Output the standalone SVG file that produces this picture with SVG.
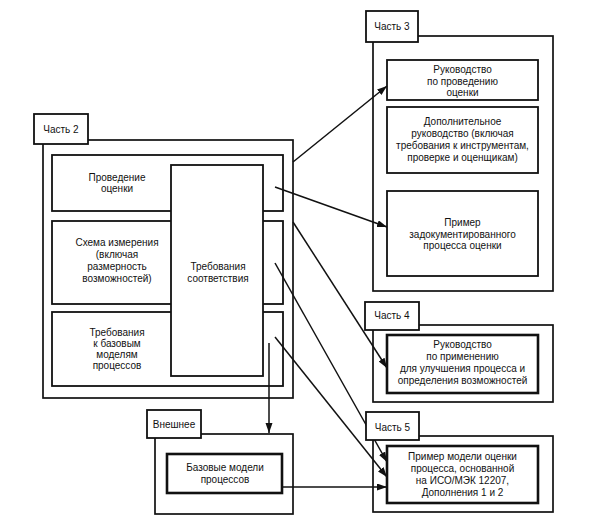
<svg xmlns="http://www.w3.org/2000/svg" width="593" height="521" viewBox="0 0 593 521">
<style>
text{font-family:"Liberation Sans",Arial,sans-serif;font-size:10px;fill:#111;text-anchor:middle}
.outer{fill:none;stroke:#111;stroke-width:1.7}
.inner{fill:none;stroke:#111;stroke-width:1.8}
.thick{fill:none;stroke:#111;stroke-width:2.6}
.label{fill:#fff;stroke:#111;stroke-width:1.8}
.over{fill:#fff;stroke:#111;stroke-width:1.8}
.conn{fill:none;stroke:#111;stroke-width:1.5;marker-end:url(#arr)}
</style>
<defs>
<marker id="arr" markerUnits="userSpaceOnUse" markerWidth="11" markerHeight="8" refX="10" refY="3.5" orient="auto">
<path d="M0,0 L10,3.5 L0,7 z" fill="#111"/>
</marker>
</defs>
<rect width="593" height="521" fill="#fff"/>
<g id="connectors">
<line class="conn" x1="293" y1="162" x2="387" y2="86"/>
<line class="conn" x1="275" y1="187" x2="387" y2="227"/>
<line class="conn" x1="293" y1="222" x2="387" y2="368"/>
<line class="conn" x1="275" y1="263" x2="387" y2="462"/>
<line class="conn" x1="275" y1="337" x2="387" y2="477"/>
<line class="conn" x1="269" y1="343" x2="269" y2="433"/>
<line class="conn" x1="282" y1="487" x2="387" y2="487"/>
</g>
<g id="part2">
<rect class="outer" x="43" y="140" width="250" height="258"/>
<rect class="inner" x="52" y="155" width="231" height="56"/>
<text x="117" y="181">Проведение</text>
<text x="117" y="192">оценки</text>
<rect class="inner" x="52" y="221" width="231" height="83"/>
<text x="117" y="246">Схема измерения</text>
<text x="117" y="258">(включая</text>
<text x="117" y="270">размерность</text>
<text x="117" y="281.5">возможностей)</text>
<rect class="inner" x="52" y="312" width="231" height="74"/>
<text x="117" y="336">Требования</text>
<text x="117" y="347">к базовым</text>
<text x="117" y="358">моделям</text>
<text x="117" y="369">процессов</text>
<rect class="over" x="171" y="165" width="92" height="211"/>
<text x="218" y="270">Требования</text>
<text x="218" y="281.5">соответствия</text>
<rect class="label" x="34" y="114" width="54" height="30"/>
<text x="61" y="133">Часть 2</text>
</g>
<g id="external">
<rect class="outer" x="155" y="434" width="138" height="80"/>
<rect class="thick" x="167" y="454" width="115" height="39"/>
<text x="225" y="471">Базовые модели</text>
<text x="225" y="482.5">процессов</text>
<rect class="label" x="147" y="410" width="54" height="28"/>
<text x="174" y="428">Внешнее</text>
</g>
<g id="part3">
<rect class="outer" x="373" y="36" width="180" height="255"/>
<rect class="inner" x="387" y="60" width="151" height="40"/>
<text x="462.5" y="73">Руководство</text>
<text x="462.5" y="84.5">по проведению</text>
<text x="462.5" y="96">оценки</text>
<rect class="inner" x="387" y="107" width="151" height="66"/>
<text x="462.5" y="125">Дополнительное</text>
<text x="462.5" y="137">руководство (включая</text>
<text x="462.5" y="149">требования к инструментам,</text>
<text x="462.5" y="161">проверке и оценщикам)</text>
<rect class="inner" x="387" y="191" width="151" height="85"/>
<text x="462.5" y="226">Пример</text>
<text x="462.5" y="237.5">задокументированного</text>
<text x="462.5" y="249">процесса оценки</text>
<rect class="label" x="366" y="11" width="52" height="31"/>
<text x="392" y="30">Часть 3</text>
</g>
<g id="part4">
<rect class="outer" x="373" y="325" width="180" height="77"/>
<rect class="thick" x="387" y="335" width="151" height="58"/>
<text x="462.5" y="348">Руководство</text>
<text x="462.5" y="360">по применению</text>
<text x="462.5" y="372">для улучшения процесса и</text>
<text x="462.5" y="383.5">определения возможностей</text>
<rect class="label" x="365" y="302" width="54" height="28"/>
<text x="392" y="319">Часть 4</text>
</g>
<g id="part5">
<rect class="outer" x="373" y="436" width="180" height="76"/>
<rect class="thick" x="387" y="446" width="151" height="57"/>
<text x="462.5" y="460">Пример модели оценки</text>
<text x="462.5" y="472">процесса, основанной</text>
<text x="462.5" y="484">на ИСО/МЭК 12207,</text>
<text x="462.5" y="496">Дополнения 1 и 2</text>
<rect class="label" x="366" y="412" width="53" height="28"/>
<text x="392.5" y="431">Часть 5</text>
</g>
</svg>
